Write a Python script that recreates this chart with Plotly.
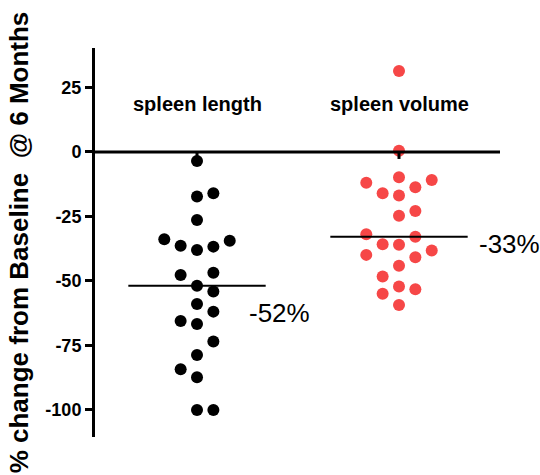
import numpy as np
import plotly.graph_objects as go

# ---- data ----
categories = ["spleen length", "spleen volume"]
spleen_length = [-3.5, -17.3, -16, -26.4, -38, -36.4, -36.7, -34.4, -33.8, -51.9, -47.7, -46.8,
                 -54.1, -58.9, -66.7, -65.5, -61.9, -78.7, -73.5, -87.3, -84.2, -100, -100]
spleen_volume = [31.4, 0.5, -9.8, -16.9, -13.7, -16, -10.9, -11.9, -24.7, -22.9, -36, -44.1,
                 -35.8, -32.9, -38.2, -31.9, -40.8, -39.9, -52.2, -59.3, -48.3, -53.2, -55]
y_ticks = [25, 0, -25, -50, -75, -100]
series = [spleen_length, spleen_volume]
colors = ["#000000", "#f64747"]

FONT = "Arial, Liberation Sans, Helvetica, sans-serif"
SLOT = 0.081      # horizontal slot spacing (x units)
COLLIDE = 5.45    # vertical collision distance (y units)


def swarm(values):
    """Greedy beeswarm: 0 first, then +/-k choosing the free side with more room."""
    placed = []  # (slot, value)
    slots = []
    for v in values:
        def nearest(s):
            d = [abs(v - pv) for ps, pv in placed if ps == s]
            return min(d) if d else np.inf
        if nearest(0) >= COLLIDE:
            chosen = 0
        else:
            chosen = None
            k = 1
            while chosen is None:
                np_, nm = nearest(k), nearest(-k)
                fp, fm = np_ >= COLLIDE, nm >= COLLIDE
                if fp and fm:
                    chosen = k if np_ >= nm else -k
                elif fp:
                    chosen = k
                elif fm:
                    chosen = -k
                k += 1
        placed.append((chosen, v))
        slots.append(chosen)
    return np.array(slots)


fig = go.Figure()
shapes = []
annotations = []
for i, (vals, col) in enumerate(zip(series, colors)):
    cx = i + 1
    offs = swarm(vals) * SLOT
    fig.add_trace(go.Scatter(
        x=cx + offs, y=vals, mode="markers",
        marker=dict(size=12, color=col, line=dict(width=0)),
        showlegend=False, hoverinfo="y"))
    med = float(np.median(vals))
    shapes.append(dict(type="line", xref="x", yref="y", x0=cx - 0.34, x1=cx + 0.34,
                       y0=med, y1=med, line=dict(color="black", width=2), layer="above"))
    # category tick under the zero line
    shapes.append(dict(type="line", xref="x", yref="y", ysizemode="pixel", yanchor=0,
                       x0=cx, x1=cx, y0=0, y1=-7, line=dict(color="black", width=3),
                       layer="above"))
    annotations.append(dict(x=cx, y=18.6, xref="x", yref="y", text=categories[i],
                            showarrow=False, xanchor="center", yanchor="middle",
                            font=dict(family=FONT, size=20, color="black", weight="bold")))

med_l = float(np.median(spleen_length))
med_v = float(np.median(spleen_volume))
annotations.append(dict(x=1 + 0.245, y=med_l, yshift=-27, xref="x", yref="y",
                        text=f"{round(med_l)}%", showarrow=False, xanchor="left",
                        yanchor="middle", font=dict(family=FONT, size=26, color="black")))
annotations.append(dict(x=2 + 0.385, y=med_v, yshift=-7, xref="x", yref="y",
                        text=f"{round(med_v)}%", showarrow=False, xanchor="left",
                        yanchor="middle", font=dict(family=FONT, size=26, color="black")))

# zero line (x axis drawn at y = 0)
shapes.append(dict(type="line", xref="paper", yref="y", x0=0, x1=1, y0=0, y1=0,
                   line=dict(color="black", width=3), layer="above"))

fig.update_layout(
    width=540, height=475,
    margin=dict(l=95, r=40, t=48, b=38),
    paper_bgcolor="white", plot_bgcolor="white",
    shapes=shapes, annotations=annotations,
    xaxis=dict(range=[0.495, 2.5], visible=False, fixedrange=True),
    yaxis=dict(range=[-110.5, 40.3], tickvals=y_ticks, ticktext=[str(t) for t in y_ticks],
               showline=True, linecolor="black", linewidth=3,
               ticks="outside", ticklen=7, tickwidth=3, tickcolor="black",
               showgrid=False, zeroline=False,
               tickfont=dict(family=FONT, size=18, color="black", weight="bold"),
               title=dict(text="% change from Baseline  @ 6 Months", standoff=10,
                          font=dict(family=FONT, size=26, color="black", weight="bold"))),
)

fig.write_html("out.html")
